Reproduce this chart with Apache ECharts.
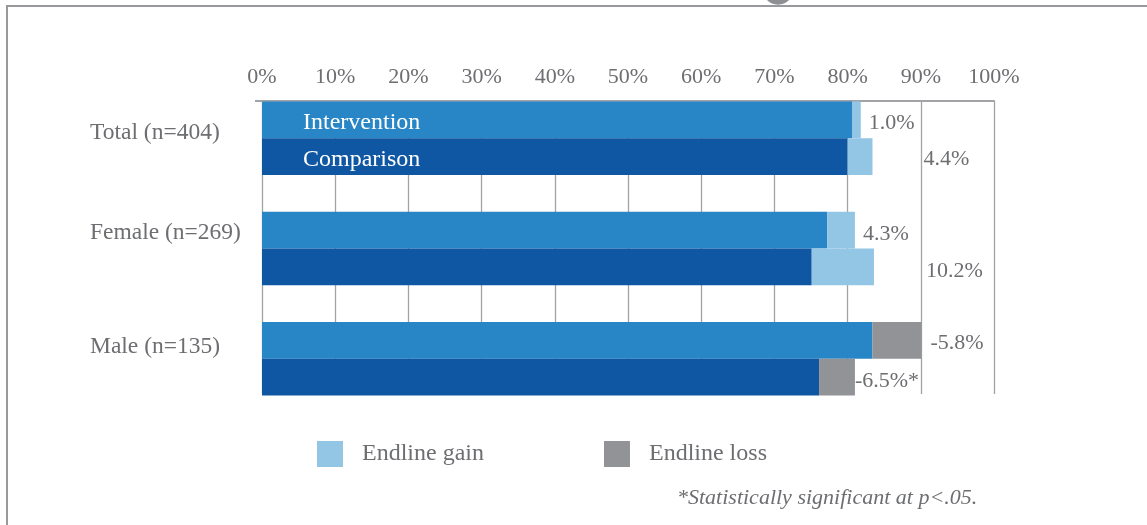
<!DOCTYPE html>
<html>
<head>
<meta charset="utf-8">
<script src="https://cdn.jsdelivr.net/npm/echarts@6/dist/echarts.min.js"></script>
<style>
html,body{margin:0;padding:0;background:#fff;}
#c{width:1147px;height:525px;}
</style>
</head>
<body>
<div id="c"></div>
<script>
// ---- data ----
const categories = ['Total (n=404)', 'Female (n=269)', 'Male (n=135)'];
const interventionBase = [80.6, 77.2, 83.4];
const interventionGain = [1.2, 3.8, 0];
const interventionLoss = [0, 0, 6.7];
const comparisonBase = [80.0, 75.1, 76.1];
const comparisonGain = [3.4, 8.5, 0];
const comparisonLoss = [0, 0, 4.9];
const interventionLabels = ['1.0%', '4.3%', '-5.8%'];
const comparisonLabels = ['4.4%', '10.2%', '-6.5%*'];
const groupNames = ['Intervention', 'Comparison'];
const tickValues = [0, 10, 20, 30, 40, 50, 60, 70, 80, 90, 100];
const legendNames = ['Endline gain', 'Endline loss'];
const footnote = '*Statistically significant at p<.05.';

// ---- styles ----
const FONT = '"Liberation Serif", "DejaVu Serif", serif';
const FS = 22;
const FS_CAT = 23.5;
const FS_BIG = 24;
const TXT = '#6d6e71';
const C_INT = '#2885c6';
const C_COMP = '#0f57a2';
const C_GAIN = '#93c6e5';
const C_LOSS = '#929397';
const LINE = '#a2a3a6';

const compOffsets = [[43, 3], [44, 4], [-8, 4]];
const intOffsets = [[0, 3], [0, 4], [1, 3]];

function topLabelData(values, labels, offsets, useThis) {
  return values.map((v, i) => {
    const item = { value: v };
    if (useThis[i]) {
      item.label = {
        show: true, position: 'right', distance: 8,
        formatter: labels[i], offset: offsets[i],
        color: TXT, fontFamily: FONT, fontSize: FS
      };
    }
    return item;
  });
}

const intUseGain = interventionGain.map(v => v > 0);
const intUseLoss = interventionLoss.map(v => v > 0);
const compUseGain = comparisonGain.map(v => v > 0);
const compUseLoss = comparisonLoss.map(v => v > 0);

const baseLabel = (name) => ({
  show: true, position: 'insideLeft', distance: 41, offset: [0, 3],
  formatter: name, color: '#ffffff', fontFamily: FONT, fontSize: FS_BIG
});

const option = {
  animation: false,
  backgroundColor: '#ffffff',
  title: {
    text: footnote, left: 672, top: 482,
    textStyle: { fontFamily: FONT, fontStyle: 'italic', fontWeight: 'normal', fontSize: FS, color: TXT }
  },
  legend: {
    data: legendNames, left: 312, top: 436,
    itemWidth: 26, itemHeight: 26, itemGap: 120, icon: 'rect',
    textStyle: { fontFamily: FONT, fontSize: FS_BIG, color: TXT, padding: [0, 0, 0, 14] }
  },
  grid: [
    { left: 262, right: 153, top: 83, height: 331 },
    { left: 262, right: 153, top: 101, height: 293 }
  ],
  xAxis: [
    { gridIndex: 0, type: 'value', min: 0, max: 100, show: false },
    {
      gridIndex: 1, type: 'value', position: 'top', min: tickValues[0], max: tickValues[tickValues.length - 1], interval: 10,
      axisLine: { show: true, lineStyle: { color: LINE, width: 2 } },
      axisTick: { show: false },
      splitLine: { show: true, lineStyle: { color: LINE, width: 1.3 } },
      axisLabel: { formatter: '{value}%', margin: 13, color: TXT, fontFamily: FONT, fontSize: FS }
    }
  ],
  yAxis: [
    {
      gridIndex: 0, type: 'category', data: categories, inverse: true,
      axisLine: { show: false }, axisTick: { show: false },
      axisLabel: {
        align: 'left', margin: 172, color: TXT, fontFamily: FONT, fontSize: FS_CAT,
        formatter: (v, i) => '{r' + i + '|' + v + '}',
        rich: {
          r0: { fontFamily: FONT, fontSize: FS_CAT, color: TXT, padding: [0, 0, 10, 0] },
          r1: { fontFamily: FONT, fontSize: FS_CAT, color: TXT, padding: [0, 0, 32, 0] },
          r2: { fontFamily: FONT, fontSize: FS_CAT, color: TXT, padding: [0, 0, 25, 0] }
        }
      }
    },
    { gridIndex: 1, type: 'category', data: categories, show: false }
  ],
  series: [
    {
      name: groupNames[0], type: 'bar', stack: 'int', xAxisIndex: 0, yAxisIndex: 0,
      barWidth: '33.3%', barGap: '0%', itemStyle: { color: C_INT },
      data: interventionBase.map((v, i) => i === 0 ? { value: v, label: baseLabel(groupNames[0]) } : v)
    },
    {
      name: groupNames[1], type: 'bar', stack: 'comp', xAxisIndex: 0, yAxisIndex: 0,
      barWidth: '33.3%', barGap: '0%', itemStyle: { color: C_COMP },
      data: comparisonBase.map((v, i) => i === 0 ? { value: v, label: baseLabel(groupNames[1]) } : v)
    },
    {
      name: legendNames[0], type: 'bar', stack: 'int', xAxisIndex: 0, yAxisIndex: 0,
      barWidth: '33.3%', barGap: '0%', itemStyle: { color: C_GAIN },
      data: topLabelData(interventionGain, interventionLabels, intOffsets, intUseGain)
    },
    {
      name: legendNames[0], type: 'bar', stack: 'comp', xAxisIndex: 0, yAxisIndex: 0,
      barWidth: '33.3%', barGap: '0%', itemStyle: { color: C_GAIN },
      data: topLabelData(comparisonGain, comparisonLabels, compOffsets, compUseGain)
    },
    {
      name: legendNames[1], type: 'bar', stack: 'int', xAxisIndex: 0, yAxisIndex: 0,
      barWidth: '33.3%', barGap: '0%', itemStyle: { color: C_LOSS },
      data: topLabelData(interventionLoss, interventionLabels, intOffsets, intUseLoss)
    },
    {
      name: legendNames[1], type: 'bar', stack: 'comp', xAxisIndex: 0, yAxisIndex: 0,
      barWidth: '33.3%', barGap: '0%', itemStyle: { color: C_LOSS },
      data: topLabelData(comparisonLoss, comparisonLabels, compOffsets, compUseLoss)
    }
  ],
  graphic: [
    { type: 'line', shape: { x1: 7, y1: 6, x2: 1147, y2: 6 }, style: { stroke: '#98999c', lineWidth: 2 }, z: 10 },
    { type: 'line', shape: { x1: 7, y1: 5, x2: 7, y2: 525 }, style: { stroke: '#98999c', lineWidth: 2 }, z: 10 },
    { type: 'line', shape: { x1: 255, y1: 101, x2: 263, y2: 101 }, style: { stroke: LINE, lineWidth: 2 }, z: 10 },
    { type: 'circle', shape: { cx: 778, cy: -11, r: 15.7 }, style: { fill: '#8e8f93' }, z: 10 }
  ]
};

const chart = echarts.init(document.getElementById('c'), null, { renderer: 'canvas' });
chart.setOption(option);
</script>
</body>
</html>
